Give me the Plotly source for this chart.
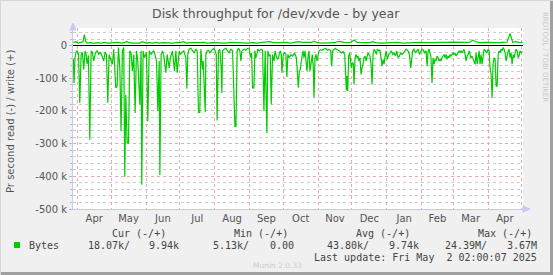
import pandas as pd
import plotly.graph_objects as go

# ---------------- data ----------------
# day offsets from 2024-04-01 and values (k bytes / second); reads are plotted negative
read_days = [
    -3.6, -3.0, -2.1, -1.2, -0.3, 1.0, 2.1, 3.3, 4.4, 5.6, 6.8, 7.7, 8.6, 9.8, 11.0, 12.2, 13.3, 14.5,
    16.0, 17.5, 19.0, 20.5, 21.9, 23.4, 24.6, 25.8, 27.0, 28.2, 30.0, 31.1, 32.3, 34.1, 35.3, 36.5,
    37.7, 38.8, 40.0, 41.2, 42.1, 43.0, 44.2, 45.4, 46.6, 47.7, 48.9, 50.1, 51.3, 52.5, 53.7, 55.5,
    56.6, 57.2, 58.4, 59.6, 61.4, 62.6, 63.8, 65.5, 66.7, 67.9, 69.1, 70.3, 71.5, 72.7, 73.3, 74.4,
    75.6, 76.8, 78.6, 79.8, 81.6, 82.7, 84.5, 86.3, 87.5, 88.7, 90.5, 91.6, 93.0,
    94.6, 96.4, 97.3, 98.1, 99.3, 100.8, 102.3, 103.8, 105.3, 106.5, 107.6, 108.8, 109.7, 110.6,
    111.2, 111.8, 112.7, 113.6, 114.2, 115.3, 116.5, 117.7, 118.9, 120.1, 121.3, 122.5, 123.4, 124.2,
    125.4, 126.6, 127.8, 128.4, 129.0, 130.5, 132.0, 133.4, 134.9, 136.4, 137.9, 138.8, 140.0, 140.9,
    142.0, 143.2, 144.4, 145.3, 146.2, 148.3, 149.7, 151.2, 152.7, 153.9, 154.8, 155.7, 156.9, 157.8,
    158.6, 159.5, 160.4, 161.6, 163.1, 164.6, 165.8, 166.9, 167.5, 168.4, 169.3, 170.5, 171.4, 172.3,
    173.5, 174.7, 175.8, 177.0, 178.2, 179.4, 180.3, 181.2, 181.8, 183.0, 184.1, 185.3, 186.2, 187.1,
    188.3, 189.8, 191.3, 193.0,
    194.6, 195.5, 196.4, 197.3, 198.1, 199.0, 199.6, 200.5, 201.4, 202.3, 203.2, 204.1, 205.0, 205.9,
    206.7, 207.9, 208.8, 209.7, 210.3, 211.2, 212.1, 213.0, 213.9, 214.7, 216.2, 217.7, 219.2, 220.7,
    222.2, 223.6, 225.1, 226.0, 226.9, 228.1, 229.3, 230.5, 231.7, 233.1, 234.6, 236.1, 237.6, 238.5,
    239.1, 239.7, 240.3, 241.1, 242.0, 242.9, 243.5, 244.4, 245.3, 245.9, 246.8, 247.7, 248.6, 249.4,
    250.3, 251.2, 252.1, 253.0, 253.9, 254.8, 255.7, 256.6, 257.5, 258.3, 259.2, 260.1, 261.0, 261.9,
    262.8, 263.7, 264.6, 265.8, 266.6, 267.8, 269.0, 269.9, 270.8, 271.7, 272.6, 273.5, 274.4, 275.5,
    276.7, 277.9, 279.1, 280.3, 281.5, 282.7, 283.8, 285.0, 286.2, 287.4, 288.6, 289.8, 291.0, 292.2,
    293.9, 295.1, 296.3, 297.2, 298.0, 299.2, 300.4, 301.6, 302.8, 304.0, 305.2, 306.3, 307.5, 308.7,
    309.9, 310.8, 311.7, 312.6, 313.5, 314.3, 315.2, 316.1, 317.0, 317.9, 318.8, 319.7, 320.6, 321.5,
    322.4, 323.2, 324.1, 325.0, 325.9, 326.8, 327.7, 328.6, 329.5, 330.4, 331.3, 332.1, 333.0, 333.9,
    334.8, 335.7, 336.6, 337.5, 338.4, 339.3, 340.1, 341.0, 341.9, 342.8, 343.7, 344.6, 345.5, 346.4,
    347.3, 348.2, 349.0, 349.9, 350.8, 351.7, 352.6, 353.5, 354.4, 355.3, 356.2, 357.1, 357.9, 358.8,
    359.7, 360.6, 361.5, 362.7, 363.9, 365.1, 366.0, 366.8, 367.7, 368.6, 369.5, 370.4, 371.3, 372.2,
    373.1, 374.0, 374.8, 375.7, 376.6, 377.5, 378.4, 379.3, 380.2, 381.1, 382.0, 382.9, 383.7, 384.6,
    385.5, 386.4, 387.3, 388.2, 389.1, 390.0, 390.9, 391.8, 392.6, 393.5, 394.7, 395.6,
]
read_k = [
    -40, -114, -37, -20, -16, -25, -175, -27, -20, -73, -16, -25, -57, -30, -288, -16, -20, -47,
    -22, -16, -27, -20, -32, -47, -20, -27, -175, -27, -47, -57, -11, -129, -124, -6,
    -68, -262, -16, -6, -401, -150, -298, -298, -16, -22, -78, -27, -206, -16, -47, -180,
    -16, -426, -16, -37, -22, -232, -16, -27, -20, -16, -30, -47, -201, -47, -396, -27,
    -16, -32, -83, -27, -68, -37, -16, -78, -16, -83, -16, -27, -20,
    -16, -37, -132, -27, -11, -8, -16, -22, -11, -16, -204, -204, -11, -57,
    -73, -47, -170, -204, -27, -16, -14, -22, -16, -11, -8, -16, -27, -229,
    -16, -11, -68, -145, -16, -11, -8, -16, -22, -11, -16, -109, -247, -247,
    -16, -8, -16, -47, -16, -11, -14, -8, -8, -37, -22, -129, -129, -16,
    -37, -27, -11, -16, -11, -14, -201, -16, -150, -268, -16, -32, -27, -180,
    -27, -47, -16, -37, -42, -22, -16, -27, -83, -27, -22, -27, -96, -27,
    -37, -27, -32, -22,
    -37, -78, -129, -78, -73, -47, -32, -16, -37, -16, -47, -78, -32, -16,
    -78, -37, -27, -68, -158, -37, -27, -47, -22, -16, -12, -14, -10, -8,
    -14, -11, -16, -63, -16, -11, -8, -12, -14, -16, -22, -18, -27, -88,
    -137, -93, -139, -32, -22, -47, -68, -52, -57, -119, -37, -27, -37, -32,
    -47, -37, -88, -68, -57, -37, -32, -47, -27, -22, -27, -32, -57, -119,
    -27, -11, -16, -27, -11, -16, -14, -37, -63, -42, -57, -32, -16, -42,
    -27, -22, -16, -27, -22, -32, -16, -37, -32, -22, -27, -22, -16, -11,
    -16, -27, -68, -32, -16, -11, -22, -16, -11, -27, -16, -11, -14, -22,
    -16, -63, -16, -11, -22, -37, -114, -37, -57, -42, -47, -32, -37, -47,
    -42, -47, -37, -32, -27, -37, -27, -42, -32, -37, -27, -32, -27, -22,
    -27, -22, -32, -27, -22, -16, -22, -16, -22, -16, -11, -27, -47, -32,
    -27, -16, -27, -37, -32, -42, -52, -57, -22, -57, -37, -16, -57, -27,
    -57, -27, -11, -16, -22, -11, -16, -68, -88, -160, -57, -37, -42, -124,
    -124, -27, -16, -22, -11, -16, -6, -11, -22, -47, -27, -16, -11, -37,
    -22, -57, -27, -37, -22, -11, -16, -37, -32, -16, -22, -18,
]
write_days = [
    -3.6, -1.5, 0.5, 3.0, 5.0, 6.2, 7.4, 9.0, 12.0, 15.0, 18.0, 21.0, 24.0, 27.0, 30.0, 33.0, 36.0,
    39.0, 42.0, 44.0, 46.0, 49.0, 52.0, 55.0, 58.0, 61.0, 64.0, 67.0, 70.0, 73.0, 76.0, 79.0, 82.0,
    85.0, 88.0, 91.0, 94.0, 97.0, 100.0, 104.0, 108.0, 112.0, 116.0, 120.0, 124.0, 128.0, 132.0,
    136.0, 140.0, 144.0, 148.0, 152.0, 156.0, 160.0, 164.0, 168.0, 171.0, 174.0, 178.0, 182.0,
    186.0, 189.0, 192.0, 196.0, 200.0, 204.0, 208.0, 210.5, 213.0, 217.0, 221.0, 225.0, 229.0,
    231.0, 233.0, 237.0, 241.0, 243.5, 245.9, 248.5, 252.0, 256.0, 260.0, 262.0, 265.0, 269.0,
    273.0, 277.0, 281.0, 285.0, 289.0, 293.0, 297.0, 301.0, 305.0, 309.0, 313.0, 317.0, 321.0,
    325.0, 329.0, 333.0, 337.0, 341.0, 345.0, 349.0, 351.5, 354.0, 358.0, 362.0, 366.0, 370.0,
    374.0, 378.0, 382.0, 384.6, 387.0, 390.0, 393.0, 395.6,
]
write_k = [
    10, 12, 8, 9, 12, 34, 12, 8, 9, 7, 9, 8, 10, 8, 9, 8, 10,
    8, 9, 13, 9, 8, 9, 8, 12, 8, 9, 8, 10, 8, 9, 8, 9,
    8, 10, 9, 12, 8, 9, 8, 9, 10, 8, 9, 8, 9, 8,
    10, 9, 8, 9, 8, 9, 8, 10, 11, 12, 9, 8, 9,
    10, 8, 9, 12, 10, 9, 10, 14, 9, 8, 9, 8, 9,
    12, 13, 10, 9, 11, 17, 10, 9, 8, 9, 12, 9, 8,
    9, 8, 9, 10, 8, 9, 8, 9, 10, 9, 8, 9, 10,
    9, 10, 11, 10, 9, 10, 11, 17, 12, 9, 10, 9, 10,
    9, 10, 11, 37, 10, 12, 9, 10,
]

y_tick_vals = [0, -100000, -200000, -300000, -400000, -500000]
y_tick_text = ["0", "-100 k", "-200 k", "-300 k", "-400 k", "-500 k"]

legend_label = "Bytes"
cur_vals = ("18.07k/", "9.94k")
min_vals = ("5.13k/", "0.00")
avg_vals = ("43.80k/", "9.74k")
max_vals = ("24.39M/", "3.67M")
col_heads = ["Cur (-/+)", "Min (-/+)", "Avg (-/+)", "Max (-/+)"]

title_text = "Disk throughput for /dev/xvde - by year"
y_title = "Pr second read (-) / write (+)"
last_update = "Last update: Fri May \u00a02 02:00:07 2025"

# ---------------- figure ----------------
base = pd.Timestamp("2024-04-01")
rx = base + pd.to_timedelta(read_days, unit="D")
wx = base + pd.to_timedelta(write_days, unit="D")
GREEN = "#00CC00"

fig = go.Figure()
fig.add_trace(go.Scatter(x=rx, y=[v * 1000 for v in read_k], mode="lines",
                         line=dict(color=GREEN, width=1.2), hoverinfo="skip", showlegend=False))
fig.add_trace(go.Scatter(x=wx, y=[v * 1000 for v in write_k], mode="lines",
                         line=dict(color=GREEN, width=1.2), hoverinfo="skip", showlegend=False))

W, H = 553, 275
L, R, T, B = 73, 523, 28, 209


def fx(px):
    return (px - L) / (R - L)


def fy(py):
    return (B - py) / (B - T)


AX = "#C8C8F0"
fig.update_layout(
    width=W, height=H, autosize=False,
    margin=dict(l=L, r=W - R, t=T, b=H - B, pad=0),
    paper_bgcolor="#F0F0F0", plot_bgcolor="#FFFFFF",
    font=dict(family="DejaVu Sans", size=10, color="#555555"),
    xaxis=dict(
        type="date",
        range=["2024-03-28 02:00", "2025-05-02 02:00"],
        dtick="M1", tick0="2024-04-01", ticklabelmode="period", tickformat="%b",
        showgrid=True, gridcolor="#F0A8A8", griddash="dot", gridwidth=1,
        ticks="", showline=True, linecolor=AX, linewidth=1,
        zeroline=False, tickfont=dict(family="DejaVu Sans", size=10, color="#555555"),
        fixedrange=True,
    ),
    yaxis=dict(
        range=[-500000, 54000],
        tickvals=y_tick_vals, ticktext=y_tick_text,
        showgrid=True, gridcolor="#F0A8A8", griddash="dot", gridwidth=1,
        minor=dict(dtick=20000, tick0=0, showgrid=True, gridcolor="#CCCCCC", griddash="dot",
                   ticks="outside", ticklen=2, tickcolor="#BBBBBB"),
        ticks="outside", ticklen=3, tickcolor="#BBBBBB",
        showline=True, linecolor=AX, linewidth=1,
        zeroline=True, zerolinecolor="#000000", zerolinewidth=1.2,
        tickfont=dict(family="DejaVu Sans", size=10, color="#555555"),
        fixedrange=True,
    ),
)

ann = []
ann.append(dict(text=title_text, x=fx(275.5), y=fy(14), xref="paper", yref="paper",
                showarrow=False, xanchor="center", yanchor="middle",
                font=dict(family="DejaVu Sans", size=12.5, color="#555555")))
ann.append(dict(text=y_title, x=fx(10), y=fy(121), xref="paper", yref="paper", textangle=-90,
                showarrow=False, xanchor="center", yanchor="middle",
                font=dict(family="DejaVu Sans", size=10, color="#555555")))
ann.append(dict(text="RRDTOOL / TOBI OETIKER", x=fx(545), y=fy(57), xref="paper", yref="paper",
                textangle=90, showarrow=False, xanchor="center", yanchor="middle",
                font=dict(family="DejaVu Sans", size=7, color="#C8C8C8")))

MONO = dict(family="DejaVu Sans Mono", size=10, color="#444444")


def txt(s, x, y, anchor):
    ann.append(dict(text=s, x=fx(x), y=fy(y), xref="paper", yref="paper", showarrow=False,
                    xanchor=anchor, yanchor="middle", font=MONO))


head_centers = [139, 261, 383, 505]
for h, cx in zip(col_heads, head_centers):
    txt(h, cx, 233, "center")
txt(legend_label, 27, 245, "left")
for (a, b), (xa, xb) in zip([cur_vals, min_vals, avg_vals, max_vals],
                            [(132, 181), (251, 296), (371, 421), (489, 539)]):
    txt(a, xa, 245, "right")
    txt(b, xb, 245, "right")
txt(last_update, 539, 257, "right")
ann.append(dict(text="Munin 2.0.33", x=fx(277), y=fy(265), xref="paper", yref="paper",
                showarrow=False, xanchor="center", yanchor="middle",
                font=dict(family="DejaVu Sans", size=7.5, color="#CCCCCC")))
fig.update_layout(annotations=ann)

shapes = [
    # legend swatch
    dict(type="rect", xref="paper", yref="paper", x0=fx(14), x1=fx(20), y0=fy(248), y1=fy(242),
         fillcolor=GREEN, line=dict(width=0)),
    # axis arrows
    dict(type="path", xref="paper", yref="paper",
         path=f"M {fx(70)} {fy(30)} L {fx(73)} {fy(23)} L {fx(76)} {fy(30)} Z",
         fillcolor=AX, line=dict(color=AX, width=1)),
    dict(type="path", xref="paper", yref="paper",
         path=f"M {fx(523)} {fy(206)} L {fx(530)} {fy(209)} L {fx(523)} {fy(212)} Z",
         fillcolor=AX, line=dict(color=AX, width=1)),
    # frame
    dict(type="line", xref="paper", yref="paper", x0=fx(0), x1=fx(W), y0=fy(273.5), y1=fy(273.5),
         line=dict(color="#A0A0A0", width=3)),
    dict(type="line", xref="paper", yref="paper", x0=fx(551.5), x1=fx(551.5), y0=fy(0), y1=fy(H),
         line=dict(color="#A0A0A0", width=3)),
    dict(type="line", xref="paper", yref="paper", x0=fx(0), x1=fx(W), y0=fy(0.5), y1=fy(0.5),
         line=dict(color="#D8D8D8", width=1)),
    dict(type="line", xref="paper", yref="paper", x0=fx(0.5), x1=fx(0.5), y0=fy(0), y1=fy(H),
         line=dict(color="#D8D8D8", width=1)),
]
fig.update_layout(shapes=shapes)

fig.write_html("out.html", config=dict(displayModeBar=False, staticPlot=True))
